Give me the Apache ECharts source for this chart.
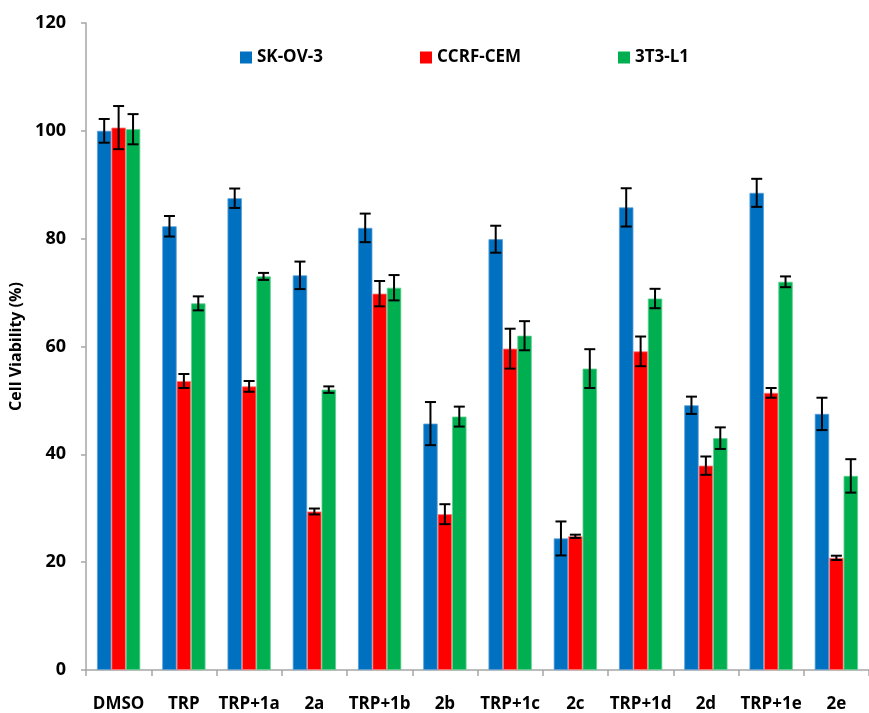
<!DOCTYPE html>
<html>
<head>
<meta charset="utf-8">
<script src="https://cdn.jsdelivr.net/npm/echarts@6/dist/echarts.min.js"></script>
<style>
  html, body { margin: 0; padding: 0; background: #fff; }
  #chart { width: 869px; height: 713px; }
</style>
</head>
<body>
<div id="chart"></div>
<script>
// categories on the x axis
const categories = ['DMSO', 'TRP', 'TRP+1a', '2a', 'TRP+1b', '2b', 'TRP+1c', '2c', 'TRP+1d', '2d', 'TRP+1e', '2e'];

// mean values + error (±) per cell line
const skov3 = [100, 82.3, 87.5, 73.2, 82.0, 45.7, 79.9, 24.4, 85.8, 49.1, 88.5, 47.5];
const skov3Err = [2.2, 1.9, 1.8, 2.55, 2.65, 4.0, 2.5, 3.15, 3.55, 1.6, 2.6, 3.0];
const ccrf = [100.6, 53.6, 52.6, 29.4, 69.8, 28.9, 59.6, 24.8, 59.1, 37.9, 51.4, 20.8];
const ccrfErr = [4.0, 1.3, 1.0, 0.55, 2.35, 1.85, 3.7, 0.3, 2.75, 1.7, 0.9, 0.4];
const t3l1 = [100.3, 68.0, 73.0, 52.0, 70.9, 47.0, 62.0, 55.9, 68.9, 43.0, 72.0, 36.0];
const t3l1Err = [2.8, 1.3, 0.65, 0.6, 2.35, 1.85, 2.7, 3.6, 1.8, 2.0, 1.0, 3.1];

const names = ['SK-OV-3', 'CCRF-CEM', '3T3-L1'];
const colors = ['#0070C0', '#FF0000', '#00B050'];
const borders = ['#5aa0d8', '#ff7a7a', '#5fd08f'];
const catGap = 0.337;
const font = '"Open Sans", "Noto Sans", sans-serif';

const chart = echarts.init(document.getElementById('chart'));

// bar series
const getBar = (i, values) => ({
  name: names[i],
  type: 'bar',
  data: values,
  barGap: '0%',
  barCategoryGap: (catGap * 100) + '%',
  itemStyle: { color: colors[i], borderColor: borders[i], borderWidth: 0.8 },
  silent: true
})

// error bars drawn on top of the bars
const getErr = (i, values, errs) => ({
  type: 'custom',
  z: 10,
  silent: true,
  data: values.map((v, k) => [k, v, errs[k]]),
  encode: { x: 0, y: 1 },
  renderItem: (params, api) => {
    const k = api.value(0)
    const v = api.value(1)
    const e = api.value(2)
    const catW = api.size([1, 0])[0]
    const bw = catW * (1 - catGap) / 3
    const x = api.coord([k, v])[0] + (i - 1) * bw
    const top = api.coord([k, v + e])[1]
    const bot = api.coord([k, v - e])[1]
    const cap = 5.5
    const style = { stroke: '#000', lineWidth: 2 }
    return {
      type: 'group',
      children: [
        { type: 'line', shape: { x1: x, y1: top, x2: x, y2: bot }, style },
        { type: 'line', shape: { x1: x - cap, y1: top, x2: x + cap, y2: top }, style },
        { type: 'line', shape: { x1: x - cap, y1: bot, x2: x + cap, y2: bot }, style }
      ]
    }
  }
})

const legendBase = {
  top: 44,
  icon: 'rect',
  itemWidth: 12,
  itemHeight: 12,
  itemGap: 6,
  itemStyle: { borderWidth: 0 },
  textStyle: { fontFamily: font, fontWeight: 'bold', fontSize: 17, color: '#000' },
  selectedMode: false
}

const option = {
  animation: false,
  color: colors,
  grid: { left: 84, top: 23, width: 795, bottom: 42 },
  legend: [
    Object.assign({}, legendBase, { data: [names[0]], left: 235 }),
    Object.assign({}, legendBase, { data: [names[1]], left: 415 }),
    Object.assign({}, legendBase, { data: [names[2]], left: 613 })
  ],
  xAxis: {
    type: 'category',
    data: categories,
    axisLine: { lineStyle: { color: '#a6a6a6', width: 1.5 } },
    axisTick: { show: true, length: 6, lineStyle: { color: '#a6a6a6', width: 1.5 } },
    axisLabel: { margin: 26, fontFamily: font, fontWeight: 'bold', fontSize: 17, color: '#000', interval: 0 }
  },
  yAxis: {
    type: 'value',
    min: 0,
    max: 120,
    interval: 20,
    name: 'Cell Viability (%)',
    nameLocation: 'middle',
    nameGap: 62,
    nameTextStyle: { fontFamily: font, fontWeight: 'bold', fontSize: 16, color: '#000' },
    splitLine: { show: false },
    axisLine: { show: true, lineStyle: { color: '#a6a6a6', width: 1.5 } },
    axisTick: { show: true, length: 5, lineStyle: { color: '#a6a6a6', width: 1.5 } },
    axisLabel: { margin: 20, fontFamily: font, fontWeight: 'bold', fontSize: 18, color: '#000' }
  },
  series: [
    getBar(0, skov3),
    getBar(1, ccrf),
    getBar(2, t3l1),
    getErr(0, skov3, skov3Err),
    getErr(1, ccrf, ccrfErr),
    getErr(2, t3l1, t3l1Err)
  ]
}

chart.setOption(option)
</script>
</body>
</html>
